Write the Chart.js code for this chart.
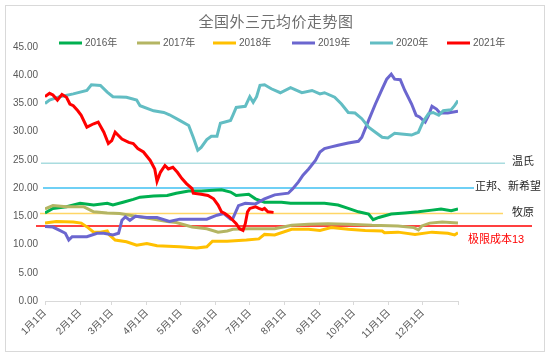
<!DOCTYPE html>
<html><head><meta charset="utf-8">
<script src="https://cdn.jsdelivr.net/npm/chart.js@4.4.1/dist/chart.umd.min.js"></script>
<style>html,body{margin:0;padding:0;background:#fff}canvas{display:block}</style>
</head><body>
<canvas id="c" width="550" height="356"></canvas>
<script>
const chartTitle = '全国外三元均价走势图';
const seriesNames = ['2016年','2017年','2018年','2019年','2020年','2021年'];
const seriesColors = ['#00B050','#B4B563','#FFC000','#6B66CF','#62BDC3','#FF0000'];
const tickDays = [0,31,59,90,120,151,181,212,243,273,304,334,365];
const tickLabels = ['1月1日','2月1日','3月1日','4月1日','5月1日','6月1日','7月1日','8月1日','9月1日','10月1日','11月1日','12月1日',''];

const days2016 = [0,7,19,31,43,55,60,69,78,84,96,108,116,127,138,156,164,169,180,186,194,209,217,236,247,259,268,277,286,290,295,306,318,330,342,350,359,365];
const price2016 = [15.6,16.4,16.7,17.3,17.0,17.3,17.0,17.5,18.0,18.4,18.6,18.7,19.1,19.5,19.5,19.7,19.3,18.7,18.9,18.1,17.5,17.5,17.3,17.3,17.3,17.0,16.4,15.8,15.4,14.4,14.8,15.4,15.6,15.8,16.1,16.3,16.0,16.3];

const days2017 = [0,7,19,34,37,43,55,66,75,90,108,116,130,143,153,161,166,180,203,218,233,250,268,289,312,326,330,333,340,351,365];
const price2017 = [16.3,16.9,16.7,16.7,16.4,15.8,15.6,15.5,15.2,14.7,14.1,13.9,13.1,12.8,12.2,12.4,12.7,12.8,12.8,13.4,13.6,13.7,13.6,13.4,13.3,13.0,12.6,13.3,13.8,14.0,13.8];

const days2018 = [0,10,25,32,38,43,49,55,57,62,72,81,90,99,119,134,143,148,161,178,189,194,203,218,233,243,253,268,283,298,300,312,327,342,356,362,365];
const price2018 = [13.8,14.1,14.0,13.8,13.0,12.2,12.2,12.4,11.7,10.8,10.5,9.9,10.2,9.8,9.6,9.4,9.6,10.6,10.6,10.8,11.0,11.8,11.7,12.7,12.7,12.5,13.0,12.7,12.5,12.4,12.1,12.2,11.8,12.2,12.0,11.7,12.1];

const days2019 = [0,7,13,18,21,24,31,37,46,52,60,65,68,71,75,80,90,99,110,119,131,143,152,158,164,166,171,177,186,194,203,215,219,224,228,233,239,243,247,253,259,268,277,280,286,292,298,302,306,309,314,318,324,328,331,336,339,342,346,349,356,365];
const price2019 = [13.2,13.1,12.5,12.0,10.8,11.4,11.4,11.4,12.0,12.0,11.7,12.0,14.3,14.9,14.3,15.0,14.8,14.8,14.1,14.5,14.5,14.5,15.2,15.5,14.5,14.6,16.9,17.3,17.2,18.1,18.8,19.1,19.9,21.1,22.3,23.4,24.9,26.4,27.0,27.3,27.6,28.0,28.3,29.0,32.0,34.9,37.6,39.3,40.2,39.3,39.2,37.3,34.9,32.9,32.6,31.7,32.9,34.5,34.0,33.3,33.3,33.6];

const days2020 = [0,4,13,25,37,41,49,55,60,72,81,84,96,105,110,119,127,131,135,138,143,147,152,155,164,166,169,177,181,184,187,190,194,200,208,217,227,236,243,247,256,262,268,274,280,286,292,298,303,309,315,324,330,334,339,343,348,352,359,362,365];
const price2020 = [35.0,35.6,36.2,36.7,37.3,38.3,38.2,37.0,36.2,36.1,35.6,34.6,33.7,33.4,33.0,32.0,31.1,29.0,26.7,27.2,28.6,29.2,29.2,31.5,32.0,32.9,34.3,34.5,36.2,35.2,36.2,38.2,38.3,37.6,36.9,37.8,36.9,37.3,36.7,36.9,36.1,34.9,33.4,33.3,32.3,30.8,29.9,29.0,28.9,29.7,29.6,29.4,29.9,31.7,33.2,33.4,32.9,33.7,33.9,34.6,35.5];

const days2021 = [0,4,7,11,15,19,22,25,29,32,37,43,47,52,56,59,62,68,74,78,82,87,93,97,99,102,106,109,113,117,121,125,130,131,138,144,149,153,156,159,163,166,169,172,175,177,179,181,186,189,192,194,197,202];
const price2021 = [36.2,36.8,36.5,35.6,36.6,36.1,34.9,34.6,33.7,32.9,30.8,31.4,31.7,29.9,27.9,28.4,29.9,28.7,28.1,27.9,27.0,26.4,24.9,23.4,21.2,22.8,24.0,23.4,23.7,22.8,21.7,20.8,19.9,19.1,18.9,18.7,18.1,17.0,15.8,15.5,14.9,14.3,13.7,12.8,12.5,13.7,15.8,16.4,16.7,16.4,16.2,16.4,15.8,15.7];

const refValues = [24.4, 20, 15.5, 13.3];
const refLabels = ['温氏','正邦、新希望','牧原','极限成本13'];

const FONT = '"Liberation Sans", "Noto Sans CJK SC", sans-serif';
const allDays = [days2016,days2017,days2018,days2019,days2020,days2021];
const allPrices = [price2016,price2017,price2018,price2019,price2020,price2021];

const datasets = seriesNames.map((name,i)=>({
  label: name,
  data: allDays[i].map((d,j)=>({x:d, y:allPrices[i][j]})),
  borderColor: seriesColors[i],
  backgroundColor: seriesColors[i],
  borderWidth: 3,
  pointRadius: 0,
  tension: 0,
  order: 5 - i
}));

const refStyle = [
  {color:'#A9DCDF', x0:41, x1:505, lx:512, dy:-1, tc:'#262626', w:1.5},
  {color:'#3FC0F2', x0:43, x1:474, lx:475, dy:-1, tc:'#262626', w:1.5},
  {color:'#FFD666', x0:40, x1:503, lx:512, dy:-1, tc:'#262626', w:1.5},
  {color:'#FF0000', x0:36, x1:532, lx:468, dy:14.5, tc:'#FF0000', w:1.5}
];

const decor = {
  id:'decor',
  beforeDraw(chart){
    const ctx = chart.ctx;
    ctx.save();
    ctx.fillStyle = '#fff';
    ctx.fillRect(0,0,chart.width,chart.height);
    ctx.strokeStyle = '#D9D9D9';
    ctx.lineWidth = 1;
    ctx.strokeRect(5.5,5.5,539,346);
    ctx.restore();
  },
  beforeDatasetsDraw(chart){
    const ctx = chart.ctx, ys = chart.scales.y;
    ctx.save();
    refValues.forEach((v,i)=>{
      const s = refStyle[i];
      const y = ys.getPixelForValue(v);
      ctx.strokeStyle = s.color;
      ctx.lineWidth = s.w;
      ctx.beginPath(); ctx.moveTo(s.x0,y); ctx.lineTo(s.x1,y); ctx.stroke();
      ctx.fillStyle = s.tc;
      ctx.font = '11px ' + FONT;
      ctx.textBaseline = 'middle';
      ctx.textAlign = 'left';
      ctx.fillText(refLabels[i], s.lx, y + s.dy);
    });
    ctx.restore();
  },
  afterDraw(chart){
    const ctx = chart.ctx;
    ctx.save();
    // title
    ctx.font = '15px ' + FONT;
    ctx.fillStyle = '#6E6E6E';
    ctx.textBaseline = 'middle';
    ctx.textAlign = 'left';
    try { ctx.letterSpacing = '0.5px'; } catch(e) {}
    const tw = ctx.measureText(chartTitle).width;
    ctx.fillText(chartTitle, 276 - tw/2, 23);
    try { ctx.letterSpacing = '0px'; } catch(e) {}
    // legend
    const starts = [59,137,213,292,370,447];
    ctx.font = '10px ' + FONT;
    seriesNames.forEach((n,i)=>{
      ctx.fillStyle = seriesColors[i];
      ctx.fillRect(starts[i], 41.5, 23, 3);
      ctx.fillStyle = '#595959';
      ctx.fillText(n, starts[i]+26, 43);
    });
    ctx.restore();
  }
};

new Chart(document.getElementById('c'), {
  type:'line',
  data:{datasets},
  options:{
    responsive:false,
    animation:false,
    devicePixelRatio:1,
    layout:{padding:{left:0,right:92,top:47,bottom:0}},
    plugins:{
      legend:{display:false},
      tooltip:{enabled:false},
      title:{display:false}
    },
    scales:{
      x:{type:'linear',min:0,max:365,
        afterBuildTicks(s){ s.ticks = tickDays.map(v=>({value:v})); },
        afterFit(s){ s.height = 55; },
        ticks:{autoSkip:false,maxRotation:45,minRotation:45,color:'#595959',
          font:{family:FONT,size:10},padding:2,
          callback:(v,i)=>tickLabels[i]},
        grid:{display:true,drawOnChartArea:false,drawTicks:true,tickLength:4,color:'#D9D9D9'},
        border:{display:true,color:'#D9D9D9'}
      },
      y:{min:0,max:45,
        afterFit(s){ s.width = 45; },
        ticks:{stepSize:5,color:'#595959',font:{family:FONT,size:10},padding:7,
          callback:v=>v.toFixed(2)},
        grid:{display:false,drawTicks:false},
        border:{display:false}
      }
    }
  },
  plugins:[decor]
});
</script>
</body></html>
